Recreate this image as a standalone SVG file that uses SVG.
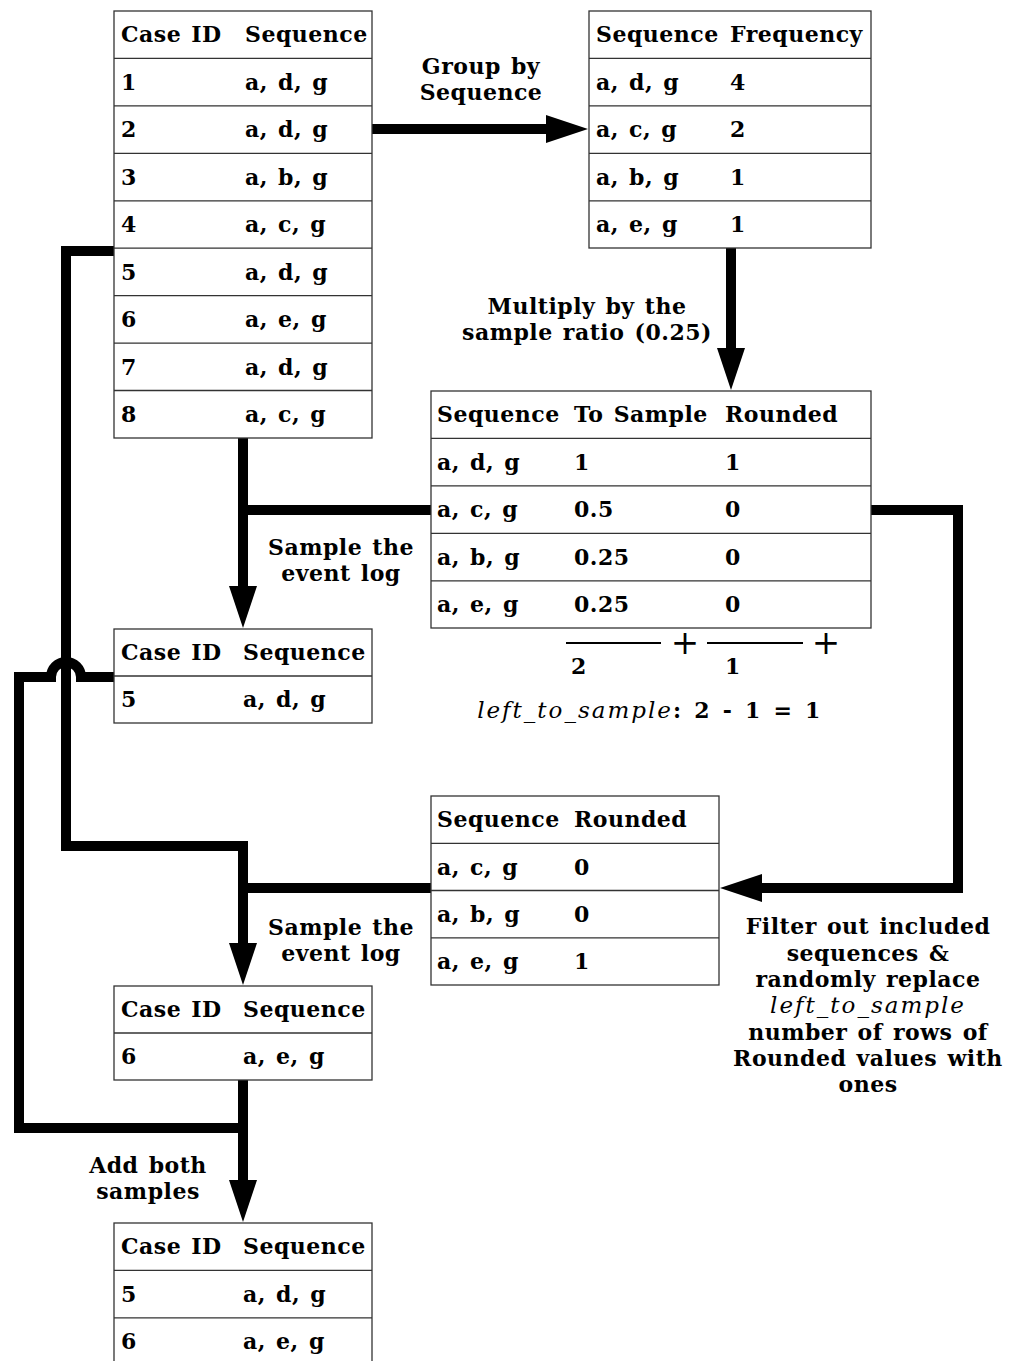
<svg xmlns="http://www.w3.org/2000/svg" width="1014" height="1361" viewBox="0 0 1014 1361">
<style>
.t{font-family:"DejaVu Serif","Liberation Serif",serif;font-weight:bold;font-size:22px;letter-spacing:.5px;word-spacing:2px;fill:#000}
.c{text-anchor:middle}
.i{font-style:italic;font-weight:normal;font-size:23px;letter-spacing:2px}
.ws{word-spacing:4.5px}
.p{font-weight:normal;font-size:34px;letter-spacing:0}
.tb{fill:#fff;stroke:#333;stroke-width:1.3}
.rl{stroke:#333;stroke-width:1.3}
.w{fill:none;stroke:#000;stroke-width:10;stroke-linejoin:miter}
.s{stroke:#000;stroke-width:2}
</style>
<defs>
<marker id="ah" markerUnits="userSpaceOnUse" markerWidth="44" markerHeight="30" viewBox="0 -15 44 30" refX="2" refY="0" orient="auto">
<path d="M0,-14 L42,0 L0,14 Z" fill="#000"/>
</marker>
</defs>
<rect width="1014" height="1361" fill="#fff"/>

<g id="connectors">
<path class="w" d="M372,129 H548" marker-end="url(#ah)"/>
<path class="w" d="M731,248 V350" marker-end="url(#ah)"/>
<path class="w" d="M243,438 V588" marker-end="url(#ah)"/>
<path class="w" d="M431,510 H243"/>
<path class="w" d="M871,510 H958 V888 H760" marker-end="url(#ah)"/>
<path class="w" d="M114,251 H66 V846 H243 V945" marker-end="url(#ah)"/>
<path class="w" d="M431,888 H243"/>
<path class="w" d="M114,677 H81 A15,15 0 0 0 51,677 H19 V1128 H243"/>
<path class="w" d="M243,1080 V1182" marker-end="url(#ah)"/>
</g>

<g id="labels">
<text class="t c" x="481" y="74">Group by</text>
<text class="t c" x="481" y="100">Sequence</text>
<text class="t c" x="587" y="314">Multiply by the</text>
<text class="t c" x="587" y="340">sample ratio (0.25)</text>
<text class="t c" x="341" y="555">Sample the</text>
<text class="t c" x="341" y="581">event log</text>
<text class="t c" x="341" y="935">Sample the</text>
<text class="t c" x="341" y="961">event log</text>
<text class="t c" x="148" y="1173">Add both</text>
<text class="t c" x="148" y="1199">samples</text>
<text class="t c" x="868" y="934">Filter out included</text>
<text class="t c" x="868" y="961">sequences &amp;</text>
<text class="t c" x="868" y="987">randomly replace</text>
<text class="t c i" x="868" y="1013">left_to_sample</text>
<text class="t c" x="868" y="1040">number of rows of</text>
<text class="t c" x="868" y="1066">Rounded values with</text>
<text class="t c" x="868" y="1092">ones</text>
</g>

<g id="sum">
<line class="s" x1="566" y1="643" x2="661" y2="643"/>
<text class="t p c" x="685" y="654">+</text>
<line class="s" x1="707" y1="643" x2="803" y2="643"/>
<text class="t p c" x="826" y="654">+</text>
<text class="t c" x="579" y="674">2</text>
<text class="t c" x="733" y="674">1</text>
<text class="t c ws" x="649" y="718"><tspan class="i">left_to_sample</tspan>: 2 - 1 = 1</text>
</g>

<g id="table-cases">
<rect class="tb" x="114" y="11" width="258" height="427"/>
<path class="rl" d="M114,58.4H372M114,105.9H372M114,153.3H372M114,200.8H372M114,248.2H372M114,295.6H372M114,343.1H372M114,390.5H372"/>
<text class="t" x="121" y="42">Case ID</text><text class="t" x="245" y="42">Sequence</text>
<text class="t" x="121" y="90">1</text><text class="t" x="245" y="90">a, d, g</text>
<text class="t" x="121" y="137">2</text><text class="t" x="245" y="137">a, d, g</text>
<text class="t" x="121" y="185">3</text><text class="t" x="245" y="185">a, b, g</text>
<text class="t" x="121" y="232">4</text><text class="t" x="245" y="232">a, c, g</text>
<text class="t" x="121" y="280">5</text><text class="t" x="245" y="280">a, d, g</text>
<text class="t" x="121" y="327">6</text><text class="t" x="245" y="327">a, e, g</text>
<text class="t" x="121" y="375">7</text><text class="t" x="245" y="375">a, d, g</text>
<text class="t" x="121" y="422">8</text><text class="t" x="245" y="422">a, c, g</text>
</g>

<g id="table-frequency">
<rect class="tb" x="589" y="11" width="282" height="237"/>
<path class="rl" d="M589,58.4H871M589,105.9H871M589,153.3H871M589,200.8H871"/>
<text class="t" x="596" y="42">Sequence</text><text class="t" x="730" y="42">Frequency</text>
<text class="t" x="596" y="90">a, d, g</text><text class="t" x="730" y="90">4</text>
<text class="t" x="596" y="137">a, c, g</text><text class="t" x="730" y="137">2</text>
<text class="t" x="596" y="185">a, b, g</text><text class="t" x="730" y="185">1</text>
<text class="t" x="596" y="232">a, e, g</text><text class="t" x="730" y="232">1</text>
</g>

<g id="table-tosample">
<rect class="tb" x="431" y="391" width="440" height="237"/>
<path class="rl" d="M431,438.4H871M431,485.9H871M431,533.3H871M431,580.8H871"/>
<text class="t" x="437" y="422">Sequence</text><text class="t" x="574" y="422">To Sample</text><text class="t" x="725" y="422">Rounded</text>
<text class="t" x="437" y="470">a, d, g</text><text class="t" x="574" y="470">1</text><text class="t" x="725" y="470">1</text>
<text class="t" x="437" y="517">a, c, g</text><text class="t" x="574" y="517">0.5</text><text class="t" x="725" y="517">0</text>
<text class="t" x="437" y="565">a, b, g</text><text class="t" x="574" y="565">0.25</text><text class="t" x="725" y="565">0</text>
<text class="t" x="437" y="612">a, e, g</text><text class="t" x="574" y="612">0.25</text><text class="t" x="725" y="612">0</text>
</g>

<g id="table-sample1">
<rect class="tb" x="114" y="629" width="258" height="94"/>
<path class="rl" d="M114,676H372"/>
<text class="t" x="121" y="660">Case ID</text><text class="t" x="243" y="660">Sequence</text>
<text class="t" x="121" y="707">5</text><text class="t" x="243" y="707">a, d, g</text>
</g>

<g id="table-filtered">
<rect class="tb" x="431" y="796" width="288" height="189"/>
<path class="rl" d="M431,843.3H719M431,890.5H719M431,937.8H719"/>
<text class="t" x="437" y="827">Sequence</text><text class="t" x="574" y="827">Rounded</text>
<text class="t" x="437" y="875">a, c, g</text><text class="t" x="574" y="875">0</text>
<text class="t" x="437" y="922">a, b, g</text><text class="t" x="574" y="922">0</text>
<text class="t" x="437" y="969">a, e, g</text><text class="t" x="574" y="969">1</text>
</g>

<g id="table-sample2">
<rect class="tb" x="114" y="986" width="258" height="94"/>
<path class="rl" d="M114,1033H372"/>
<text class="t" x="121" y="1017">Case ID</text><text class="t" x="243" y="1017">Sequence</text>
<text class="t" x="121" y="1064">6</text><text class="t" x="243" y="1064">a, e, g</text>
</g>

<g id="table-result">
<rect class="tb" x="114" y="1223" width="258" height="143"/>
<path class="rl" d="M114,1270.4H372M114,1317.8H372"/>
<text class="t" x="121" y="1254">Case ID</text><text class="t" x="243" y="1254">Sequence</text>
<text class="t" x="121" y="1302">5</text><text class="t" x="243" y="1302">a, d, g</text>
<text class="t" x="121" y="1349">6</text><text class="t" x="243" y="1349">a, e, g</text>
</g>
</svg>
